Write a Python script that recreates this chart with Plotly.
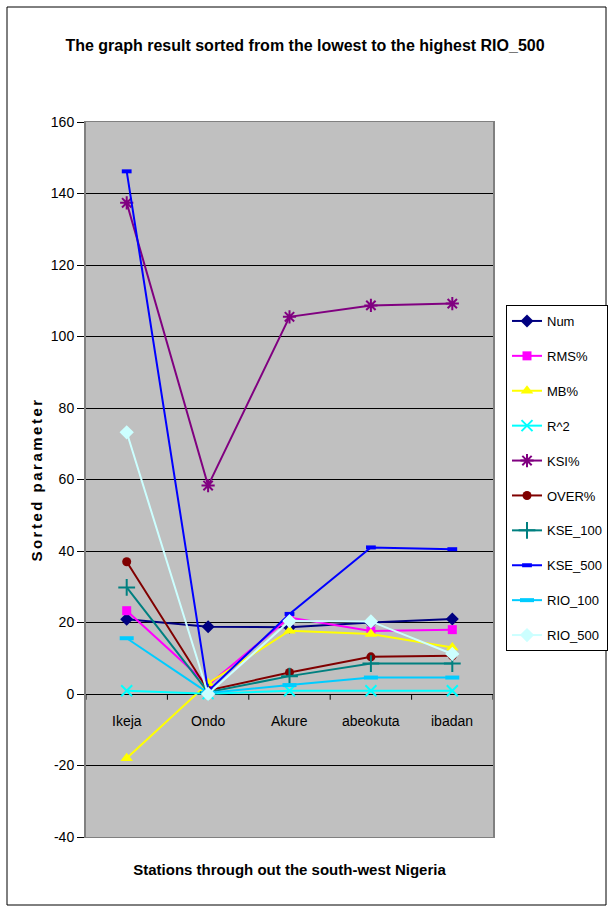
import plotly.graph_objects as go

# Stations, ordered from the lowest to the highest RIO_500
stations = ["Ikeja", "Ondo", "Akure", "abeokuta", "ibadan"]

num = [20.9, 18.8, 18.7, 20.0, 21.0]
rms_pct = [23.3, 2.5, 21.4, 17.6, 18.0]
mb_pct = [-18.0, 3.0, 17.7, 16.8, 13.0]
r_squared = [0.9, 0.1, 0.9, 0.9, 0.9]
ksi_pct = [137.4, 58.3, 105.5, 108.7, 109.2]
over_pct = [37.0, 1.0, 6.0, 10.4, 10.7]
kse_100 = [29.8, 0.5, 5.0, 8.5, 8.5]
kse_500 = [146.2, 0.8, 22.4, 41.0, 40.5]
rio_100 = [15.6, 0.3, 2.5, 4.6, 4.6]
rio_500 = [73.2, 0.0, 20.4, 20.3, 11.2]

y_ticks = [-40, -20, 0, 20, 40, 60, 80, 100, 120, 140, 160]

FONT = "Liberation Sans, Arial, sans-serif"

series = [
    ("Num", num, "#000080", dict(symbol="diamond", size=10)),
    ("RMS%", rms_pct, "#FF00FF", dict(symbol="square", size=9)),
    ("MB%", mb_pct, "#FFFF00", dict(symbol="triangle-up", size=11)),
    ("R^2", r_squared, "#00FFFF", dict(symbol="x-thin-open", size=11, line=dict(width=2, color="#00FFFF"))),
    ("KSI%", ksi_pct, "#800080", dict(symbol="asterisk-open", size=11, line=dict(width=2, color="#800080"))),
    ("OVER%", over_pct, "#800000", dict(symbol="circle", size=9)),
    ("KSE_100", kse_100, "#008080", dict(symbol="cross-thin-open", size=12, line=dict(width=2, color="#008080"))),
    ("KSE_500", kse_500, "#0000FF", dict(symbol="line-ew-open", size=7, line=dict(width=4, color="#0000FF"))),
    ("RIO_100", rio_100, "#00CCFF", dict(symbol="line-ew-open", size=10, line=dict(width=4, color="#00CCFF"))),
    ("RIO_500", rio_500, "#CCFFFF", dict(symbol="diamond", size=11)),
]

fig = go.Figure()
for i, (name, values, color, marker) in enumerate(series):
    m = dict(color=color)
    m.update(marker)
    fig.add_trace(go.Scatter(
        x=stations, y=values, name=name, mode="lines+markers",
        line=dict(color=color, width=2), marker=m,
        legendgroup=f"g{i}",
    ))

W, H = 612, 909
L, R, T, B = 86, 119, 122, 72
pw, ph = W - L - R, H - T - B

def px_x(p):
    return (p - L) / pw

def px_y(p):
    return (H - B - p) / ph

shapes = []
# outer chart frame
shapes.append(dict(type="rect", xref="paper", yref="paper",
                   x0=px_x(7), x1=px_x(606), y0=px_y(905), y1=px_y(7),
                   line=dict(color="black", width=1), fillcolor="rgba(0,0,0,0)", layer="below"))
# category-axis tick marks between stations, hanging below the zero line
for k in range(len(stations) + 1):
    shapes.append(dict(type="line", xref="x", yref="y", x0=k - 0.5, x1=k - 0.5,
                       y0=0, y1=-1.6, line=dict(color="black", width=1)))

annotations = []
# station labels sit next to the category axis at zero
for s in stations:
    annotations.append(dict(x=s, y=0, xref="x", yref="y", text=s, showarrow=False,
                            yshift=-27, font=dict(family=FONT, size=14, color="black")))

fig.update_layout(
    width=W, height=H,
    margin=dict(l=L, r=R, t=T, b=B, autoexpand=False),
    paper_bgcolor="white",
    plot_bgcolor="#C0C0C0",
    title=dict(text="<b>The graph result sorted from the lowest to the highest RIO_500</b>",
               xref="container", x=305 / W, xanchor="center",
               yref="container", y=1 - 45 / H, yanchor="middle",
               font=dict(family=FONT, size=16, color="black")),
    xaxis=dict(range=[-0.5, 4.5], showticklabels=False, ticks="",
               showgrid=False, zeroline=False, showline=True, mirror=True,
               linecolor="#808080", linewidth=1,
               title=dict(text="<b>Stations through out the south-west Nigeria</b>",
                          standoff=27, font=dict(family=FONT, size=15, color="black"))),
    yaxis=dict(range=[-40, 160], tickvals=y_ticks, ticktext=[str(v) for v in y_ticks],
               ticks="outside", ticklen=7, tickcolor="black",
               tickfont=dict(family=FONT, size=14, color="black"),
               showgrid=True, gridcolor="black", gridwidth=1,
               zeroline=True, zerolinecolor="black", zerolinewidth=1,
               showline=True, mirror=True, linecolor="#808080", linewidth=2,
               title=dict(text="<b><span style=\"letter-spacing:2.5px\">Sorted parameter</span></b>",
                          standoff=5, font=dict(family=FONT, size=15, color="black"))),
    legend=dict(x=px_x(506), xanchor="left", y=px_y(305), yanchor="top",
                bgcolor="white", bordercolor="black", borderwidth=1,
                font=dict(family=FONT, size=13, color="black"),
                tracegroupgap=15, itemwidth=30),
    shapes=shapes,
    annotations=annotations,
    showlegend=True,
)

fig.write_html("out.html")
